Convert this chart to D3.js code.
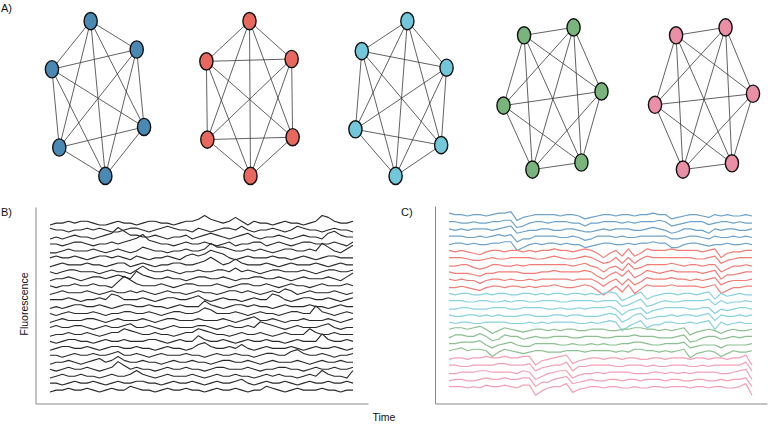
<!DOCTYPE html>
<html>
<head>
<meta charset="utf-8">
<script src="https://cdn.jsdelivr.net/npm/d3@7"></script>
<style>
  body { margin: 0; background: #fff; }
  svg text { font-family: "Liberation Sans", Arial, sans-serif; fill: #111; }
</style>
</head>
<body>
<div id="chart"></div>
<script>
// --- data ---------------------------------------------------------------
const groups = ['blue', 'red', 'cyan', 'green', 'pink'];
const nodeColors = ['#4a89b4', '#e8675e', '#72c8da', '#79b47d', '#eb8fa7'];
const traceColors = ['#6fa2cb', '#f27d77', '#8ad1e1', '#8cc091', '#f3a0b6'];

// network layout of the 6 cells in each ensemble (layout units, -1..1)
const layoutX = [
  [-0.15, 0.79, -0.94, 0.94, -0.79, 0.15],
  [0.0, 0.86, -0.88, 0.88, -0.86, 0.02],
  [0.13, -0.8, 0.93, -0.93, 0.82, -0.11],
  [-0.58, 0.43, 1.0, -1.0, -0.41, 0.59],
  [-0.57, 0.44, 1.0, -1.0, -0.43, 0.57]
];
const layoutY = [
  [-0.98, -0.62, -0.37, 0.36, 0.62, 0.98],
  [-0.98, -0.5, -0.47, 0.49, 0.52, 0.98],
  [-0.98, -0.6, -0.39, 0.39, 0.59, 0.98],
  [-0.8, -0.9, -0.09, 0.09, 0.9, 0.81],
  [-0.8, -0.9, -0.06, 0.08, 0.9, 0.82]
];

// B) raw fluorescence, unsorted cells
const tracesB = [
  [0,1,1,2,1,2,2,1,0,0,1,2,1,1,0,1,2,2,1,1,0,1,2,2,3,5,3,2,1,2,4,2,0,2,1,1,0,1,2,1,1,0,1,2,5,4,2,1,1,2],
  [2,1,1,0,1,1,2,1,2,1,0,0,1,2,2,1,0,1,2,3,2,1,1,0,2,1,0,1,2,2,1,3,1,0,1,1,2,1,0,1,3,2,1,1,0,1,2,1,1,0],
  [0,1,0,1,2,1,1,0,1,2,3,6,4,2,2,1,1,2,1,0,1,1,2,0,1,2,3,2,1,0,1,2,3,1,0,1,1,2,1,0,1,2,1,1,0,3,4,2,1,1],
  [1,1,0,1,2,2,1,0,1,1,2,1,2,3,4,6,3,2,1,1,0,1,2,1,1,2,1,0,1,2,0,1,1,2,2,0,1,2,1,0,1,2,2,1,1,1,2,1,0,2],
  [0,0,1,2,1,1,1,2,1,0,1,2,1,0,1,3,2,1,1,0,1,1,2,1,1,2,5,3,3,2,1,1,2,1,2,1,0,1,2,2,1,1,2,1,5,3,1,0,2,4],
  [1,2,1,1,2,1,0,1,2,2,1,2,1,0,2,1,0,1,1,2,1,0,2,3,2,3,5,4,3,1,0,1,2,1,1,1,2,1,1,0,1,2,1,0,1,2,2,1,1,1],
  [0,1,2,1,1,1,2,1,1,0,1,2,2,0,1,2,1,0,1,1,2,2,1,1,2,3,5,3,1,2,4,2,1,1,1,2,1,0,1,2,1,1,1,2,1,0,1,2,1,1],
  [1,0,1,2,2,1,1,1,0,1,2,1,1,0,2,4,2,1,1,2,1,0,1,1,2,1,1,2,2,1,3,1,2,1,0,1,2,2,1,1,1,2,1,0,1,2,2,1,1,2],
  [0,1,1,2,1,0,1,2,2,1,2,3,2,1,5,3,2,1,1,2,1,1,0,1,2,2,1,1,2,1,0,1,1,2,2,1,1,2,1,0,1,2,1,1,1,2,1,0,2,4],
  [1,0,1,1,2,1,1,2,1,1,0,3,6,4,2,1,1,1,2,1,0,1,2,2,1,1,1,2,1,0,1,2,2,1,1,2,1,0,1,2,1,1,0,1,2,1,1,1,2,1],
  [0,1,2,1,1,1,2,1,0,1,2,1,1,2,1,2,1,0,1,2,1,1,0,1,2,1,1,0,1,2,2,1,2,1,0,1,2,1,3,2,0,1,2,1,1,1,2,1,0,1],
  [1,1,1,2,1,0,1,1,2,1,4,3,1,1,1,2,1,0,1,2,2,1,1,2,3,1,0,1,2,1,1,0,1,2,1,1,4,3,1,0,1,2,2,1,1,2,1,0,1,2],
  [0,1,0,1,2,2,1,1,2,1,0,1,2,2,1,1,2,1,1,0,1,2,1,1,1,4,2,1,0,1,2,2,1,2,1,1,0,1,2,1,1,1,2,1,1,0,1,2,1,1],
  [1,0,1,2,1,1,1,2,1,0,1,1,2,2,1,1,2,1,0,1,2,2,1,1,2,4,3,1,1,1,2,1,0,1,2,1,1,0,1,2,2,1,1,5,2,1,0,1,2,1],
  [0,1,2,1,1,1,2,2,1,0,1,2,1,1,1,2,1,0,1,2,2,1,1,1,2,1,1,1,2,1,0,1,2,3,1,1,2,1,0,1,1,2,1,1,1,2,1,0,1,2],
  [1,2,1,1,2,2,1,0,1,2,1,1,2,3,1,1,2,1,0,1,2,1,1,1,2,2,1,0,1,2,1,1,2,1,4,3,2,1,0,1,2,1,1,1,2,3,1,0,1,1],
  [0,1,1,2,1,1,2,1,0,1,2,2,4,3,2,1,1,2,1,1,0,1,2,2,4,3,2,1,1,0,1,2,1,1,2,1,0,1,2,1,1,1,4,2,1,1,2,1,1,1],
  [1,0,1,2,2,1,1,0,1,2,1,1,2,1,1,1,2,2,1,0,1,2,1,1,4,2,1,1,2,1,0,1,2,1,1,2,1,1,0,1,2,1,1,1,5,2,1,1,2,1],
  [0,1,2,2,1,1,2,1,0,1,2,2,1,1,2,1,1,0,1,2,1,1,0,1,3,4,2,1,1,2,1,3,1,0,1,2,1,1,1,2,1,0,1,2,1,1,2,1,0,1],
  [1,1,0,1,2,1,1,2,1,1,2,3,1,1,2,1,0,1,2,1,1,1,2,1,1,0,1,2,1,1,2,1,1,0,1,2,2,1,1,3,4,2,1,1,2,1,0,1,1,2],
  [0,1,1,2,1,0,1,2,3,1,2,4,2,1,1,2,1,1,0,1,2,1,1,2,1,1,0,1,2,2,1,1,2,1,0,1,2,1,1,1,2,1,0,1,2,1,1,2,1,1],
  [1,0,1,2,1,1,2,1,0,1,2,5,3,1,2,1,1,0,1,2,1,1,2,1,1,0,1,2,2,1,1,1,2,1,0,1,1,2,2,1,1,0,1,2,1,1,2,1,1,2],
  [0,1,2,1,1,2,1,1,0,1,2,1,1,2,4,2,1,0,1,2,1,1,1,2,1,0,1,2,1,1,2,1,1,0,1,2,1,2,1,1,0,1,2,1,4,2,1,1,0,4],
  [1,1,0,1,2,1,1,2,1,0,1,2,1,1,2,2,1,1,0,1,2,1,1,2,1,0,1,2,1,1,2,3,1,0,1,2,1,1,2,1,0,1,2,1,1,2,1,1,2,1],
  [0,1,1,2,1,1,2,1,0,1,2,1,1,3,2,1,1,0,1,2,1,1,2,1,1,0,1,2,1,1,2,1,0,1,1,3,2,1,0,1,2,1,1,1,2,1,1,0,1,1]
];

// C) the same cells sorted by ensemble
const traceGroupC = [0,0,0,0,0, 1,1,1,1,1,1, 2,2,2,2,2, 3,3,3,3, 4,4,4,4,4];
const tracesC = [
  [2,1,1,0,1,1,0,1,2,2,3,-3,-1,0,1,1,1,1,0,1,1,0,-2,-1,0,1,1,0,1,1,0,1,1,2,1,1,-2,-1,0,1,1,0,-1,1,0,1,0,0,1,0],
  [1,1,0,0,1,0,0,1,1,2,2,-3,-2,0,1,1,0,1,1,1,0,0,-2,0,0,1,1,1,0,1,0,1,1,1,2,1,-2,-1,0,1,1,1,-1,0,1,1,0,1,0,0],
  [1,0,1,0,1,1,1,0,1,2,3,-2,-1,0,0,1,1,0,0,1,1,0,-1,-1,0,1,0,1,1,1,0,0,1,2,1,0,-2,-1,1,1,0,0,-2,1,0,1,1,0,0,1],
  [1,1,1,0,0,1,0,1,2,1,2,-3,-1,-1,1,1,1,1,0,0,1,0,-2,-1,1,1,1,0,1,0,0,1,1,1,1,1,-1,-1,0,1,1,0,-1,1,0,0,1,0,1,0],
  [0,1,1,0,1,0,0,1,1,2,2,-4,-2,0,1,0,1,1,0,1,0,0,-2,-1,0,1,1,0,0,1,0,1,1,2,1,1,-2,-2,0,1,1,0,-1,0,0,1,0,0,1,0],
  [1,0,1,0,-1,-2,0,1,1,0,1,1,0,1,0,1,1,2,1,1,0,1,2,1,-1,-4,-1,1,-3,2,-3,-1,2,1,1,1,2,1,1,1,1,0,1,2,-4,-1,0,0,1,1],
  [1,1,1,0,-1,-1,0,1,0,0,1,1,1,1,0,0,1,2,1,0,0,1,2,1,-1,-3,-2,1,-3,1,-3,0,2,1,1,1,1,1,1,1,0,0,1,2,-3,-1,0,1,1,1],
  [0,0,1,1,-1,-2,-1,1,1,0,0,1,0,1,1,1,1,1,1,1,0,1,2,0,-1,-4,-1,0,-3,2,-2,-1,1,1,1,1,2,1,0,1,1,0,1,1,-4,-2,0,0,1,0],
  [1,0,0,0,-1,-2,0,0,1,1,1,1,0,0,0,1,1,2,1,1,1,1,2,1,-2,-4,-1,1,-2,2,-3,-1,2,1,0,1,2,1,1,1,1,0,1,2,-4,-1,-1,0,1,1],
  [1,0,1,0,0,-2,0,1,1,0,1,0,0,1,0,1,1,1,1,1,0,1,1,1,-1,-4,-1,1,-3,1,-3,-1,2,1,1,1,2,1,1,0,1,0,1,2,-3,-1,0,0,0,1],
  [0,0,1,0,-1,-2,0,1,1,0,1,1,0,1,0,1,1,2,1,0,0,1,2,1,-2,-5,-2,1,-3,2,-4,-1,2,1,1,1,2,1,1,1,1,0,1,2,-4,-2,0,0,1,1],
  [1,0,1,1,0,0,1,0,1,1,0,0,1,1,0,1,0,1,1,0,1,1,0,1,0,1,2,1,-4,-2,0,2,-3,-1,0,1,1,0,1,1,0,1,2,-3,1,-1,0,1,0,0],
  [1,1,1,0,0,1,1,0,0,1,0,1,1,0,0,1,1,1,0,0,1,1,1,1,0,1,1,1,-3,-2,0,2,-3,-2,0,1,0,0,1,1,1,1,2,-2,1,-1,0,0,1,0],
  [0,0,1,1,0,0,0,1,1,1,0,0,1,1,1,1,0,0,1,0,0,1,0,1,1,1,2,0,-4,-1,0,1,-3,-1,0,1,1,1,1,0,0,1,1,-3,0,-1,0,1,1,0],
  [1,0,0,1,1,0,1,0,1,0,0,0,1,1,0,0,0,1,1,0,1,1,0,0,0,1,2,1,-4,-2,1,2,-2,-1,0,0,1,0,1,1,0,1,2,-3,1,0,0,1,0,1],
  [1,0,1,1,0,0,1,1,1,1,0,0,0,1,0,1,0,1,1,1,1,0,0,1,0,1,2,1,-5,-2,0,2,-3,-1,-1,1,1,0,0,1,0,1,2,-4,1,-1,0,1,0,0],
  [1,2,2,1,2,3,1,-2,0,2,1,0,-1,0,1,1,0,1,0,1,1,0,0,1,1,1,0,0,1,1,2,2,1,1,0,1,0,1,2,-3,-1,0,1,0,-2,0,1,0,0,1],
  [0,2,2,1,1,3,1,-2,-1,2,1,1,-1,0,1,0,0,1,1,1,0,0,1,1,1,0,0,1,1,1,2,1,1,1,0,0,0,1,2,-3,-2,0,1,1,-1,0,1,0,1,1],
  [1,1,2,2,2,3,0,-2,0,1,2,0,-1,-1,1,1,1,1,0,0,1,0,0,1,0,1,0,0,1,1,2,2,1,0,0,1,1,1,2,-2,-1,0,0,0,-2,0,0,0,0,1],
  [1,2,3,1,2,2,1,-3,0,2,1,0,-1,0,1,1,0,0,0,1,1,1,0,1,1,1,1,0,1,0,2,2,1,1,0,1,0,1,2,-4,-1,0,1,0,-3,-1,1,0,0,1],
  [0,1,1,0,1,1,2,1,1,2,1,1,2,2,-4,-1,0,1,2,3,-3,-1,0,1,1,0,1,1,0,1,1,0,0,1,1,0,1,1,1,0,1,1,0,1,1,0,1,1,3,-4],
  [1,1,0,0,1,1,1,1,2,2,1,1,1,2,-3,-1,0,1,1,3,-3,0,0,1,1,1,1,0,0,1,1,1,0,1,0,0,1,1,1,0,0,1,0,1,1,1,1,1,3,-3],
  [0,0,1,1,1,2,2,1,1,1,1,0,2,1,-4,-2,0,1,2,2,-3,-1,0,0,1,0,1,1,1,1,0,0,0,1,1,0,1,0,1,0,1,1,1,1,0,0,1,2,3,-4],
  [0,1,1,0,0,1,2,1,1,2,1,1,2,2,-4,-1,-1,1,2,3,-2,-1,0,1,0,0,1,1,0,1,1,0,1,1,1,0,1,1,0,0,1,1,0,0,1,0,1,1,2,-4],
  [1,1,1,0,1,0,2,1,1,2,1,0,2,2,-5,-2,0,1,1,3,-3,-1,0,1,1,0,1,1,0,0,1,0,0,1,1,0,1,1,1,0,1,1,0,1,1,0,0,1,3,-5]
];

// --- drawing ------------------------------------------------------------
const width = 768;
const height = 424;

const svg = d3.select('#chart')
  .append('svg')
  .attr('width', width)
  .attr('height', height);

// panel labels
svg.append('text').attr('x', 1).attr('y', 12).attr('font-size', 11).text('A)');
svg.append('text').attr('x', 1).attr('y', 216).attr('font-size', 11).text('B)');
svg.append('text').attr('x', 401).attr('y', 216).attr('font-size', 11).text('C)');

// A) ensemble graphs
const graphX = d3.scalePoint().domain(groups).range([98, 704]);
const nodeX = d3.scaleLinear().domain([-1, 1]).range([-49, 49]);
const nodeY = d3.scaleLinear().domain([-1, 1]).range([19.5, 177.5]);

const links = [];
for (let i = 0; i < 6; i++) {
  for (let j = i + 1; j < 6; j++) links.push([i, j]);
}

groups.forEach((g, gi) => {
  const nodes = layoutX[gi].map((v, k) => ({ x: graphX(g) + nodeX(v), y: nodeY(layoutY[gi][k]) }));
  const gr = svg.append('g').attr('class', 'graph-' + g);

  gr.selectAll('line')
    .data(links)
    .enter().append('line')
    .attr('x1', d => nodes[d[0]].x)
    .attr('y1', d => nodes[d[0]].y)
    .attr('x2', d => nodes[d[1]].x)
    .attr('y2', d => nodes[d[1]].y)
    .attr('stroke', '#3a3a3a')
    .attr('stroke-width', 0.8);

  gr.selectAll('ellipse')
    .data(nodes)
    .enter().append('ellipse')
    .attr('cx', d => d.x)
    .attr('cy', d => d.y)
    .attr('rx', 6.6)
    .attr('ry', 8.6)
    .attr('fill', nodeColors[gi])
    .attr('stroke', '#111')
    .attr('stroke-width', 1.4);
});

// B) and C) trace panels
function tracePanel(traces, x0, x1, y0, y1, unit, color, lw) {
  const row = d3.scalePoint().domain(d3.range(traces.length)).range([y0, y1]);
  const amp = d3.scaleLinear().domain([0, 1]).range([0, -unit]);
  const g = svg.append('g');
  g.selectAll('path')
    .data(traces)
    .enter().append('path')
    .attr('fill', 'none')
    .attr('stroke', (d, i) => color(i))
    .attr('stroke-width', lw)
    .attr('stroke-linejoin', 'round')
    .attr('d', (d, i) => {
      const x = d3.scaleLinear().domain([0, d.length - 1]).range([x0, x1]);
      return d3.line().x((v, k) => x(k)).y(v => row(i) + amp(v))(d);
    });
}

tracePanel(tracesB, 50, 353, 225, 392, 1.9, () => '#2a2a2a', 1.1);
tracePanel(tracesC, 449, 752, 216, 388, 1.45, i => traceColors[traceGroupC[i]], 1.2);

// empty axes framing the trace panels
function frame(x0, x1, y0, y1) {
  const xs = d3.scaleLinear().range([x0, x1]);
  const ys = d3.scaleLinear().range([y1, y0]);
  const ax = svg.append('g').attr('transform', `translate(0,${y1})`)
    .call(d3.axisBottom(xs).tickValues([]).tickSizeOuter(0));
  const ay = svg.append('g').attr('transform', `translate(${x0},0)`)
    .call(d3.axisLeft(ys).tickValues([]).tickSizeOuter(0));
  [ax, ay].forEach(a => a.select('.domain').attr('stroke', '#8a8a8a'));
}
frame(35.5, 368, 207, 403.5);
frame(435, 767, 206, 403.5);

svg.append('text')
  .attr('transform', 'translate(28,304) rotate(-90)')
  .attr('text-anchor', 'middle')
  .attr('font-size', 10.5)
  .text('Fluorescence');

svg.append('text')
  .attr('x', 384)
  .attr('y', 421)
  .attr('text-anchor', 'middle')
  .attr('font-size', 10.5)
  .text('Time');
</script>
</body>
</html>
